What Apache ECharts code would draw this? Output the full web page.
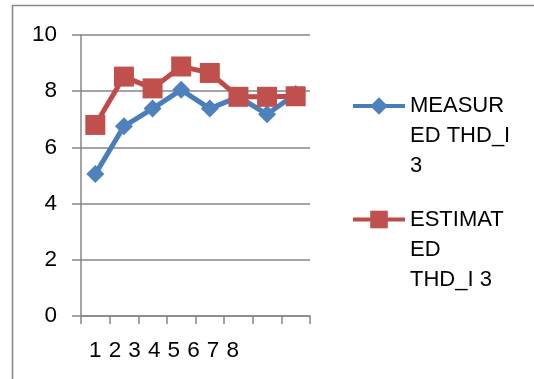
<!DOCTYPE html>
<html>
<head>
<meta charset="utf-8">
<script src="https://cdn.jsdelivr.net/npm/echarts@6/dist/echarts.min.js"></script>
<style>html,body{margin:0;padding:0;background:#fff}#c{width:534px;height:379px}</style>
</head>
<body>
<div id="c"></div>
<script>
var categories = ['1', '2', '3', '4', '5', '6', '7', '8'];
var measured = [5.05, 6.75, 7.38, 8.05, 7.38, 7.8, 7.18, 7.9];
var estimated = [6.8, 8.52, 8.1, 8.88, 8.65, 7.8, 7.8, 7.82];
var seriesNames = ['MEASURED THD_I 3', 'ESTIMATED THD_I 3'];
var legendLabels = ['MEASUR\nED THD_I\n3', 'ESTIMAT\nED\nTHD_I 3'];
var yTicks = { min: 0, max: 10, interval: 2 };

var FONT = 'Liberation Sans';
var chart = echarts.init(document.getElementById('c'));

var rich = { d: { width: 19.5, align: 'center', fontSize: 22.5, lineHeight: 22, fontFamily: FONT, color: '#000' } };
categories.forEach(function (c, i) {
  rich['s' + i] = { width: 18 * i, fontSize: 22, lineHeight: 22 };
});

function legendFor(idx, top) {
  return {
    orient: 'vertical',
    left: 351,
    top: top,
    padding: 0,
    itemWidth: 52,
    itemHeight: 22,
    itemGap: 0,
    data: [seriesNames[idx]],
    lineStyle: { width: 4 },
    formatter: function () { return '\n\n' + legendLabels[idx]; },
    textStyle: { fontFamily: FONT, fontSize: 22, lineHeight: 30, color: '#000' }
  };
}

chart.setOption({
  animation: false,
  backgroundColor: '#fff',
  graphic: [{
    type: 'rect',
    shape: { x: 12.5, y: 5.5, width: 560, height: 420 },
    style: { fill: 'none', stroke: '#8a8a8a', lineWidth: 1.6 },
    silent: true
  }],
  legend: [legendFor(0, 31), legendFor(1, 144.5)],
  grid: { left: 81, right: 224, top: 35, bottom: 63 },
  xAxis: {
    type: 'category',
    data: categories,
    boundaryGap: true,
    axisLine: { show: true, lineStyle: { color: '#868686', width: 1.5 } },
    axisTick: { show: true, length: 8, lineStyle: { color: '#868686', width: 1.5 } },
    axisLabel: {
      interval: 0,
      margin: 24,
      rich: rich,
      formatter: function (v, i) { return '{d|' + v + '}{s' + i + '| }'; }
    },
    splitLine: { show: false }
  },
  yAxis: {
    type: 'value',
    min: yTicks.min,
    max: yTicks.max,
    interval: yTicks.interval,
    axisLine: { show: true, lineStyle: { color: '#868686', width: 1.5 } },
    axisTick: { show: true, length: 9, lineStyle: { color: '#868686', width: 1.5 } },
    axisLabel: { margin: 24, fontFamily: FONT, fontSize: 22.5, color: '#000' },
    splitLine: { show: true, lineStyle: { color: '#868686', width: 1.5 } }
  },
  series: [{
    name: seriesNames[0],
    type: 'line',
    data: measured,
    symbol: 'diamond',
    symbolSize: 18,
    lineStyle: { color: '#4A7EBB', width: 5 },
    itemStyle: { color: '#4F81BD' }
  }, {
    name: seriesNames[1],
    type: 'line',
    data: estimated,
    symbol: 'rect',
    symbolSize: 20,
    lineStyle: { color: '#BE4B48', width: 5 },
    itemStyle: { color: '#C0504D' }
  }]
});
</script>
</body>
</html>
